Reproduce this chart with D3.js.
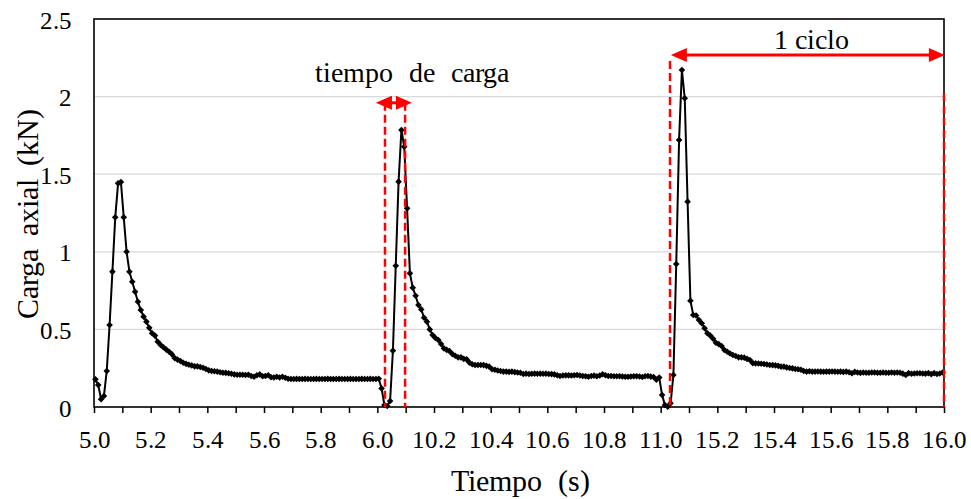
<!DOCTYPE html>
<html>
<head>
<meta charset="UTF-8">
<script src="https://d3js.org/d3.v7.min.js"></script>
<style>
    @font-face { font-family: "ChartSerif"; src: local("Liberation Serif"), local("LiberationSerif"), local("Tinos"), local("Times New Roman"); }
    body { margin: 0; background: #fff; }
</style>
</head>
<body>
<script>
    // samples every 0.01 s, three cycles glued together (5-6 s, 10-11 s, 15-16 s)
    var seg1 = [0.178, 0.142, 0.05, 0.071, 0.232, 0.528, 0.872, 1.222, 1.441, 1.45,
        1.222, 1.0, 0.872, 0.807, 0.743, 0.678, 0.625, 0.582, 0.55, 0.51,
        0.475, 0.46, 0.42, 0.40, 0.385, 0.37, 0.356, 0.34, 0.315, 0.305,
        0.296, 0.285, 0.278, 0.272, 0.268, 0.262, 0.262, 0.258, 0.253, 0.245,
        0.236, 0.232, 0.23, 0.228, 0.224, 0.221, 0.22, 0.217, 0.214, 0.21,
        0.208, 0.208, 0.208, 0.206, 0.208, 0.2, 0.195, 0.205, 0.21, 0.198,
        0.2, 0.205, 0.192, 0.19, 0.195, 0.19, 0.195, 0.188, 0.182, 0.18,
        0.18, 0.181, 0.18, 0.18, 0.181, 0.18, 0.18, 0.18, 0.181, 0.18,
        0.18, 0.18, 0.181, 0.18, 0.18, 0.18, 0.181, 0.18, 0.18, 0.18,
        0.181, 0.18, 0.18, 0.18, 0.181, 0.18, 0.18, 0.181, 0.18, 0.18];
    var seg2 = [0.182, 0.12, 0.013, 0.006, 0.039, 0.363, 0.91, 1.452, 1.785, 1.677,
        1.28, 0.861, 0.769, 0.717, 0.657, 0.629, 0.575, 0.55, 0.5, 0.464,
        0.445, 0.432, 0.406, 0.378, 0.368, 0.36, 0.341, 0.33, 0.32, 0.32,
        0.31, 0.307, 0.286, 0.275, 0.271, 0.271, 0.271, 0.27, 0.265, 0.26,
        0.243, 0.24, 0.235, 0.232, 0.228, 0.228, 0.226, 0.228, 0.225, 0.222,
        0.221, 0.213, 0.215, 0.213, 0.214, 0.215, 0.214, 0.215, 0.214, 0.215,
        0.213, 0.212, 0.21, 0.205, 0.2, 0.203, 0.204, 0.204, 0.203, 0.205,
        0.206, 0.203, 0.2, 0.198, 0.195, 0.2, 0.202, 0.198, 0.203, 0.211,
        0.205, 0.2, 0.2, 0.198, 0.198, 0.198, 0.197, 0.195, 0.195, 0.197,
        0.198, 0.198, 0.197, 0.193, 0.198, 0.2, 0.196, 0.193, 0.176, 0.19];
    var seg3 = [0.077, 0.013, 0.002, 0.024, 0.206, 0.921, 1.72, 2.171, 1.989, 1.323,
        0.685, 0.593, 0.59, 0.561, 0.54, 0.507, 0.475, 0.46, 0.44, 0.414,
        0.405, 0.393, 0.367, 0.356, 0.345, 0.335, 0.329, 0.32, 0.32, 0.318,
        0.31, 0.303, 0.283, 0.281, 0.28, 0.279, 0.277, 0.274, 0.271, 0.27,
        0.268, 0.265, 0.26, 0.26, 0.255, 0.251, 0.249, 0.245, 0.243, 0.24,
        0.232, 0.228, 0.23, 0.228, 0.228, 0.229, 0.228, 0.227, 0.228, 0.228,
        0.229, 0.228, 0.227, 0.228, 0.226, 0.228, 0.224, 0.217, 0.226, 0.222,
        0.22, 0.222, 0.221, 0.221, 0.222, 0.222, 0.221, 0.221, 0.222, 0.221,
        0.221, 0.222, 0.221, 0.222, 0.221, 0.215, 0.206, 0.218, 0.214, 0.216,
        0.217, 0.217, 0.216, 0.215, 0.218, 0.212, 0.218, 0.213, 0.216, 0.222];

    var xTickLabels = ["5.0", "5.2", "5.4", "5.6", "5.8", "6.0", "10.2", "10.4", "10.6", "10.8",
        "11.0", "15.2", "15.4", "15.6", "15.8", "16.0"];
    var yTicks = [0, 0.5, 1, 1.5, 2, 2.5];

    // annotations, in sample index / kN
    var cargaLines = [102.7, 109.8];
    var cargaTop = 1.96;
    var cargaArrow = [99.5, 112.2];
    var cargaText = [112.4, 2.094];
    var cicloLines = [203.3, 300];
    var cicloTops = [2.23, 2.02];
    var cicloArrow = [203.6, 300.3];
    var cicloArrowY = 2.268;
    var cicloText = [253.1, 2.307];

    var values = seg1.concat(seg2, seg3);
    var serif = "ChartSerif, 'Liberation Serif', 'Times New Roman', serif";

    var svg = d3.select("body").append("svg").attr("width", 971).attr("height", 499)
        .attr("font-family", serif);
    var x = d3.scaleLinear().domain([0, values.length]).range([94, 944]);
    var y = d3.scaleLinear().domain([0, 2.5]).range([407, 19]);

    function serifText(sel, size) {
        sel.attr("font-family", serif)
            .style("font-family", serif, "important")
            .style("font-size", size + "px", "important")
            .attr("fill", "#000");
    }

    // gridlines
    svg.append("g").selectAll("line")
        .data(yTicks.filter(function (d) { return d > 0 && d < 2.5; }))
        .enter().append("line")
        .attr("x1", x(0)).attr("x2", x(values.length))
        .attr("y1", function (d) { return y(d); })
        .attr("y2", function (d) { return y(d); })
        .attr("stroke", "#d9d9d9").attr("stroke-width", 1.3);

    // x axis: ticks every 0.1 s, labels every 0.2 s
    var xAxis = d3.axisBottom(x)
        .tickValues(d3.range(0, values.length + 1, 10))
        .tickSize(6).tickPadding(17)
        .tickFormat(function (d) { return d % 20 === 0 ? xTickLabels[d / 20] : ""; });
    var gx = svg.append("g").attr("transform", "translate(0," + y(0) + ")").call(xAxis);
    gx.attr("font-family", serif);
    gx.select(".domain").remove();
    gx.selectAll("line").attr("stroke", "#000").attr("stroke-width", 1.5);
    serifText(gx.selectAll("text"), 25);

    var gy = svg.append("g").attr("transform", "translate(" + x(0) + ",0)")
        .call(d3.axisLeft(y).tickValues(yTicks).tickSize(0).tickPadding(22)
            .tickFormat(function (d) { return String(d); }));
    gy.attr("font-family", serif);
    gy.select(".domain").remove();
    serifText(gy.selectAll("text"), 25);
    gy.selectAll("text").attr("dy", "0.36em");

    // frame
    svg.append("rect")
        .attr("x", x(0)).attr("y", y(2.5))
        .attr("width", x(values.length) - x(0)).attr("height", y(0) - y(2.5))
        .attr("fill", "none").attr("stroke", "#000").attr("stroke-width", 1.6);

    // series
    var line = d3.line()
        .x(function (d, i) { return x(i + 0.5); })
        .y(function (d) { return y(d); });
    svg.append("path").datum(values)
        .attr("d", line)
        .attr("fill", "none").attr("stroke", "#000").attr("stroke-width", 2);

    svg.append("g").selectAll("path")
        .data(values)
        .enter().append("path")
        .attr("d", "M0,-3.3L3.3,0L0,3.3L-3.3,0Z")
        .attr("transform", function (d, i) { return "translate(" + x(i + 0.5) + "," + y(d) + ")"; })
        .attr("fill", "#000");

    // red annotations
    function dashed(xi, top) {
        svg.append("line")
            .attr("x1", x(xi)).attr("x2", x(xi))
            .attr("y1", y(top)).attr("y2", y(0))
            .attr("stroke", "#ff0000").attr("stroke-width", 2.5)
            .attr("stroke-dasharray", "8,4");
    }

    function arrow(x1, x2, yy) {
        var a = x(x1), b = x(x2), c = y(yy), h = 16, w = 7;
        svg.append("line")
            .attr("x1", a + h - 1).attr("x2", b - h + 1)
            .attr("y1", c).attr("y2", c)
            .attr("stroke", "#ff0000").attr("stroke-width", 3);
        svg.append("path")
            .attr("d", "M" + a + "," + c + "L" + (a + h) + "," + (c - w) + "L" + (a + h) + "," + (c + w) + "Z")
            .attr("fill", "#ff0000");
        svg.append("path")
            .attr("d", "M" + b + "," + c + "L" + (b - h) + "," + (c - w) + "L" + (b - h) + "," + (c + w) + "Z")
            .attr("fill", "#ff0000");
    }

    dashed(cargaLines[0], cargaTop);
    dashed(cargaLines[1], cargaTop);
    arrow(cargaArrow[0], cargaArrow[1], cargaTop);
    dashed(cicloLines[0], cicloTops[0]);
    dashed(cicloLines[1], cicloTops[1]);
    arrow(cicloArrow[0], cicloArrow[1], cicloArrowY);

    function label(t, size) {
        var s = svg.append("text").attr("text-anchor", "middle").text(t);
        serifText(s, size);
        return s;
    }

    label("tiempo de carga", 28)
        .attr("x", x(cargaText[0])).attr("y", y(cargaText[1]))
        .style("word-spacing", "9px");
    label("1 ciclo", 28)
        .attr("x", x(cicloText[0])).attr("y", y(cicloText[1]));

    // axis titles
    label("Carga axial (kN)", 30)
        .attr("transform", "translate(38,214) rotate(-90)")
        .style("word-spacing", "5px");
    label("Tiempo (s)", 30)
        .attr("x", 520).attr("y", 491)
        .style("word-spacing", "8px");
</script>
</body>
</html>
